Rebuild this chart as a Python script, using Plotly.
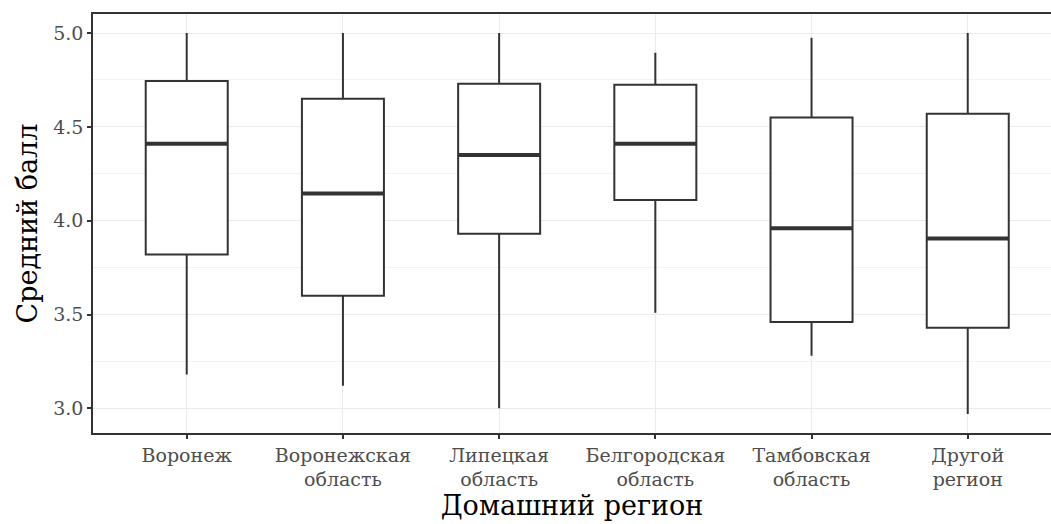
import plotly.graph_objects as go

categories = ["Воронеж", "Воронежская<br>область", "Липецкая<br>область",
              "Белгородская<br>область", "Тамбовская<br>область", "Другой<br>регион"]
lower = [3.18, 3.12, 3.00, 3.51, 3.28, 2.97]
q1 = [3.82, 3.60, 3.93, 4.11, 3.46, 3.43]
median = [4.41, 4.145, 4.35, 4.41, 3.96, 3.905]
q3 = [4.745, 4.65, 4.73, 4.725, 4.55, 4.57]
upper = [5.00, 5.00, 5.00, 4.895, 4.975, 5.00]

y_ticks = [3.0, 3.5, 4.0, 4.5, 5.0]
y_tick_text = ["3.0", "3.5", "4.0", "4.5", "5.0"]

FONT = "DejaVu Serif"
LINE = "#333333"

fig = go.Figure()
fig.add_trace(go.Box(
    x=categories, q1=q1, median=median, q3=q3,
    lowerfence=lower, upperfence=upper,
    fillcolor="white", line=dict(color=LINE, width=2),
    whiskerwidth=0, boxpoints=False, hoverinfo="skip", showlegend=False,
))
# thicker median line (ggplot fatten)
fig.add_trace(go.Box(
    x=categories, q1=median, median=median, q3=median,
    lowerfence=median, upperfence=median,
    fillcolor="rgba(0,0,0,0)", line=dict(color=LINE, width=4),
    whiskerwidth=0, boxpoints=False, hoverinfo="skip", showlegend=False,
))

fig.update_layout(
    width=1051, height=524,
    margin=dict(l=93, r=0, t=14, b=91, autoexpand=False),
    paper_bgcolor="white", plot_bgcolor="white",
    boxgap=0.25, boxmode="overlay",
    font=dict(family=FONT, color="#4D4D4D"),
)
fig.update_xaxes(
    type="category", range=[-0.6, 5.533], automargin=False,
    showline=True, linecolor=LINE, linewidth=1.5, mirror=True,
    ticks="outside", ticklen=4, tickcolor=LINE, tickwidth=1.5,
    showgrid=True, gridcolor="#EBEBEB", gridwidth=1.3,
    tickfont=dict(family=FONT, size=19, color="#4D4D4D"),
    title=dict(text="Домашний регион", font=dict(family=FONT, size=27, color="black"), standoff=0),
    zeroline=False,
)
fig.update_yaxes(
    range=[2.8685, 5.1015], automargin=False,
    tickvals=y_ticks, ticktext=y_tick_text,
    showline=True, linecolor=LINE, linewidth=1.5, mirror=False,
    ticks="outside", ticklen=4, tickcolor=LINE, tickwidth=1.5,
    showgrid=True, gridcolor="#EBEBEB", gridwidth=1.3,
    minor=dict(dtick=0.25, showgrid=True, gridcolor="#F2F2F2", gridwidth=0.8, ticks=""),
    tickfont=dict(family=FONT, size=19, color="#4D4D4D"),
    title=dict(text="Средний балл", font=dict(family=FONT, size=27, color="black"), standoff=8),
    zeroline=False,
)

fig.write_html(
    "out.html",
    config={"responsive": False, "displayModeBar": False},
    post_script="document.body.style.margin='0px';",
)
